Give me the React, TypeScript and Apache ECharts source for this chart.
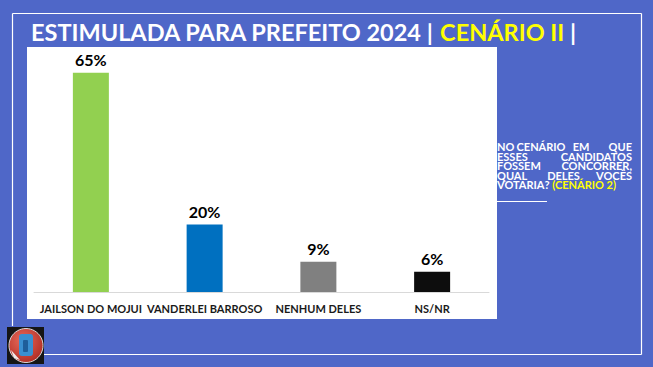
import React, { useEffect, useRef } from "react";
import * as echarts from "echarts";

const categories = ["JAILSON DO MOJUI", "VANDERLEI BARROSO", "NENHUM DELES", "NS/NR"];
const values = [65, 20, 9, 6];
const barColors = ["#92D050", "#0070C0", "#808080", "#0D0D0D"];
const titleMain = "ESTIMULADA PARA PREFEITO 2024";
const titleHighlight = "CENÁRIO II";
const noteLines = [
  ["NO", "CENÁRIO", "EM", "QUE"],
  ["ESSES", "CANDIDATOS"],
  ["FOSSEM", "CONCORRER,"],
  ["QUAL", "DELES", "VOCÊS"],
];
const noteLast = "VOTARIA?";
const noteLastHighlight = "(CENÁRIO 2)";

const FONT = "Lato, 'Noto Sans', sans-serif";
const BLUE_BG = "#4F67C8";

export default function App() {
  const ref = useRef<HTMLDivElement>(null);
  useEffect(() => {
    if (!ref.current) return;
    const chart = echarts.init(ref.current, null, { renderer: "svg" });

    const noteLeft = 497;
    const noteRight = 632;
    const noteTop = 146.5;
    const lineH = 9.6;
    const noteFont = {
      fontFamily: FONT,
      fontWeight: "bold" as const,
      fontSize: 11,
      lineHeight: 9.6,
      fill: "#FFFFFF",
    };
    const mids: Record<string, number> = { CENÁRIO: 541, EM: 581, DELES: 563.5 };
    const noteEls: any[] = [];
    noteLines.forEach((words, li) => {
      const y = noteTop + li * lineH;
      const n = words.length;
      words.forEach((w, wi) => {
        let x: number;
        let align: string;
        if (wi === 0) {
          x = noteLeft;
          align = "left";
        } else if (wi === n - 1) {
          x = noteRight;
          align = "right";
        } else {
          x = mids[w] ?? (noteLeft + noteRight) / 2;
          align = "center";
        }
        noteEls.push({
          type: "text",
          z: 5,
          x,
          y,
          style: { ...noteFont, text: w, align, verticalAlign: "middle" },
        });
      });
    });
    noteEls.push({
      type: "text",
      z: 5,
      x: noteLeft,
      y: noteTop + 4 * lineH,
      style: {
        text: `{w|${noteLast} }{y|${noteLastHighlight}}`,
        align: "left",
        verticalAlign: "middle",
        rich: {
          w: { fontFamily: FONT, fontWeight: "bold", fontSize: 11, lineHeight: 9.6, fill: "#FFFFFF" },
          y: { fontFamily: FONT, fontWeight: "bold", fontSize: 11, lineHeight: 9.6, fill: "#FFFF00" },
        },
      },
    });

    const option: any = {
      animation: false,
      backgroundColor: BLUE_BG,
      graphic: [
        // frame
        { type: "line", z: 0, shape: { x1: 12.5, y1: 13.5, x2: 641.5, y2: 13.5 }, style: { stroke: "#FFFFFF", lineWidth: 1.2 } },
        { type: "line", z: 0, shape: { x1: 641.5, y1: 13.5, x2: 641.5, y2: 354.5 }, style: { stroke: "#FFFFFF", lineWidth: 1.2 } },
        { type: "line", z: 0, shape: { x1: 44, y1: 354.5, x2: 641.5, y2: 354.5 }, style: { stroke: "#FFFFFF", lineWidth: 1.2 } },
        { type: "line", z: 0, shape: { x1: 12.5, y1: 13.5, x2: 12.5, y2: 326 }, style: { stroke: "#FFFFFF", lineWidth: 1.2 } },
        // plot area
        { type: "rect", z: 0, shape: { x: 27, y: 47, width: 470, height: 272 }, style: { fill: "#FFFFFF" } },
        // title
        {
          type: "text",
          z: 5,
          x: 31,
          y: 32,
          style: {
            text: `{w|${titleMain} | }{y|${titleHighlight}}{w| |}`,
            verticalAlign: "middle",
            rich: {
              w: { fontFamily: FONT, fontWeight: "bold", fontSize: 23.5, fill: "#FFFFFF" },
              y: { fontFamily: FONT, fontWeight: "bold", fontSize: 23.5, fill: "#FFFF00" },
            },
          },
        },
        ...noteEls,
        { type: "line", z: 5, shape: { x1: 497, y1: 201.5, x2: 547, y2: 201.5 }, style: { stroke: "#FFFFFF", lineWidth: 1 } },
        // logo
        { type: "rect", z: 5, shape: { x: 7, y: 327, width: 37, height: 37 }, style: { fill: "#151515" } },
        {
          type: "circle",
          z: 6,
          shape: { cx: 26, cy: 345.5, r: 17 },
          style: {
            fill: new echarts.graphic.RadialGradient(0.4, 0.35, 0.8, [
              { offset: 0, color: "#E86A5A" },
              { offset: 1, color: "#A8231C" },
            ]),
            stroke: "#D8D8D8",
            lineWidth: 1,
          },
        },
        { type: "rect", z: 7, shape: { x: 19, y: 334, width: 14, height: 22, r: 3 }, style: { fill: "#3A8FD0" } },
        { type: "rect", z: 8, shape: { x: 23, y: 340, width: 5, height: 12, r: 1 }, style: { fill: "#1E5E9A" } },
        { type: "polygon", z: 8, shape: { points: [[11, 350], [20, 360], [14, 358]] }, style: { fill: "#EDEDED" } },
      ],
      grid: { left: 34, right: 164, top: 56, bottom: 75, containLabel: false },
      xAxis: {
        type: "category",
        data: categories,
        axisLine: { show: true, lineStyle: { color: "#D9D9D9", width: 1 } },
        axisTick: { show: false },
        axisLabel: {
          interval: 0,
          margin: 11,
          color: "#1A1A1A",
          fontFamily: FONT,
          fontWeight: "bold",
          fontSize: 11,
        },
      },
      yAxis: {
        type: "value",
        min: 0,
        max: 70,
        show: false,
        splitLine: { show: false },
      },
      series: [
        {
          type: "bar",
          z: 3,
          barWidth: 36,
          data: values.map((v, i) => ({ value: v, itemStyle: { color: barColors[i] } })),
          label: {
            show: true,
            position: "top",
            distance: 5,
            formatter: "{c}%",
            color: "#000000",
            fontFamily: FONT,
            fontWeight: "bold",
            fontSize: 16,
          },
        },
      ],
    };
    chart.setOption(option);
    return () => chart.dispose();
  }, []);
  return (
    <div
      ref={ref}
      style={{ position: "fixed", left: 0, top: 0, width: 653, height: 367 }}
    />
  );
}
